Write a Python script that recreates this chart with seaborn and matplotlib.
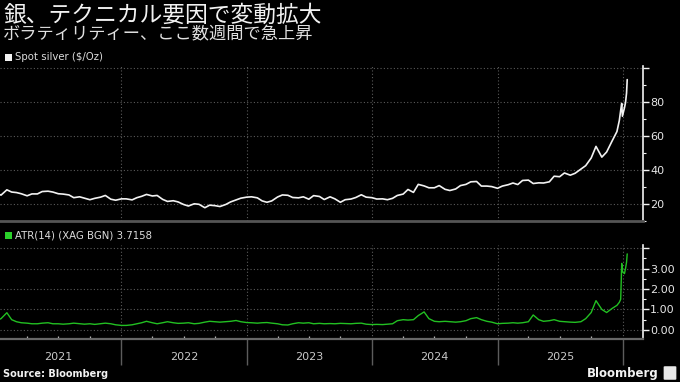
import numpy as np
import pandas as pd
import matplotlib
matplotlib.use("Agg")
import matplotlib.pyplot as plt
import matplotlib.dates as mdates
import matplotlib.transforms as mtransforms
from matplotlib.patches import Rectangle, FancyBboxPatch
from matplotlib.ticker import FixedLocator, MultipleLocator
import seaborn as sns

# ---------------- data ----------------
title = "銀、テクニカル要因で変動拡大"
subtitle = "ボラティリティー、ここ数週間で急上昇"
series1_name = "Spot silver ($/Oz)"
series2_name = "ATR(14) (XAG BGN) 3.7158"
source = "Source: Bloomberg"

# semi-monthly points, 2021-01-01 .. 2025-12-15
silver_2021 = [26.4, 25.2, 28.3, 27.0, 26.7, 26.0, 24.8, 25.9, 25.9, 27.3, 27.5, 27.0,
               26.0, 25.8, 25.3, 23.7, 24.2, 23.4, 22.5, 23.3, 24.0, 25.0, 22.8, 22.2]
silver_2022 = [23.0, 23.0, 22.4, 23.7, 24.5, 25.6, 24.7, 25.0, 22.7, 21.5, 21.9, 21.2,
               19.7, 18.8, 20.1, 19.8, 17.8, 19.3, 19.0, 18.5, 19.7, 21.2, 22.4, 23.4]
silver_2023 = [24.0, 24.2, 23.6, 21.8, 21.0, 21.8, 24.1, 25.3, 25.1, 23.8, 23.6, 24.2,
               22.8, 24.9, 24.4, 22.6, 24.2, 23.0, 21.0, 22.5, 22.9, 23.8, 25.4, 24.0]
silver_2024 = [23.7, 22.9, 23.0, 22.5, 23.3, 25.0, 25.8, 28.5, 26.8, 31.5, 30.6, 29.5,
               29.5, 30.8, 28.6, 27.9, 28.8, 30.8, 31.5, 33.0, 33.2, 30.5, 30.5, 30.2]
silver_2025 = [29.2, 30.5, 31.3, 32.3, 31.4, 33.8, 34.0, 32.0, 32.4, 32.3, 33.0, 36.3,
               36.0, 38.2, 36.9, 38.0, 40.5, 42.5, 47.0, 53.8, 47.5, 50.5, 57.0, 62.5]
atr_2021 = [0.45, 0.55, 0.84, 0.50, 0.40, 0.35, 0.33, 0.30, 0.30, 0.33, 0.35, 0.30,
            0.30, 0.28, 0.30, 0.33, 0.30, 0.28, 0.30, 0.27, 0.30, 0.33, 0.30, 0.25]
atr_2022 = [0.22, 0.22, 0.25, 0.30, 0.35, 0.42, 0.35, 0.30, 0.35, 0.40, 0.35, 0.32,
            0.33, 0.35, 0.30, 0.32, 0.38, 0.42, 0.40, 0.38, 0.40, 0.42, 0.46, 0.40]
atr_2023 = [0.36, 0.35, 0.33, 0.35, 0.36, 0.33, 0.30, 0.25, 0.24, 0.30, 0.35, 0.33,
            0.35, 0.30, 0.32, 0.30, 0.31, 0.30, 0.32, 0.31, 0.30, 0.32, 0.33, 0.28]
atr_2024 = [0.26, 0.27, 0.26, 0.28, 0.30, 0.45, 0.50, 0.48, 0.50, 0.70, 0.88, 0.55,
            0.42, 0.40, 0.42, 0.40, 0.38, 0.40, 0.45, 0.55, 0.60, 0.50, 0.42, 0.38]
atr_2025 = [0.30, 0.32, 0.33, 0.35, 0.33, 0.35, 0.40, 0.73, 0.50, 0.42, 0.45, 0.50,
            0.42, 0.40, 0.38, 0.37, 0.40, 0.55, 0.85, 1.43, 1.00, 0.85, 1.05, 1.20]
# last weeks (daily-ish)
end_dates = ["2025-12-22", "2025-12-26", "2025-12-29", "2025-12-31",
             "2026-01-06", "2026-01-09", "2026-01-12", "2026-01-14"]
silver_end = [69.0, 75.0, 79.0, 71.5, 76.5, 79.5, 85.0, 93.0]
atr_end = [1.35, 1.50, 3.25, 2.85, 2.75, 3.00, 3.30, 3.7158]

years = [2021, 2022, 2023, 2024, 2025]
silver_ticks = [20, 40, 60, 80, 100]
silver_ticklabels = ["20", "40", "60", "80", ""]
atr_ticks = [0, 1, 2, 3, 4]
atr_ticklabels = ["0.00", "1.00", "2.00", "3.00", ""]

dates = list(pd.date_range("2021-01-01", "2025-12-15", freq="SMS")) + list(pd.to_datetime(end_dates))
silver = silver_2021 + silver_2022 + silver_2023 + silver_2024 + silver_2025 + silver_end
atr = atr_2021 + atr_2022 + atr_2023 + atr_2024 + atr_2025 + atr_end
df = pd.DataFrame({"date": dates, "silver": silver, "atr": atr})

# ---------------- style ----------------
sns.set_theme(style="dark")
plt.rcParams["font.family"] = ["DejaVu Sans", "Noto Sans CJK JP"]
BG = "black"
GRID = "#5a5a5a"
WHITE = "#f2f2f2"
GREEN_LINE = "#22c022"
GREEN_SQ = "#2ad12a"

fig = plt.figure(figsize=(6.8, 3.82), dpi=100, facecolor=BG)
W, H = 680.0, 382.0

def fx(px):
    return px / W

def fy(py):
    return 1 - py / H

ax1 = fig.add_axes([0, fy(221), fx(643), (221 - 66) / H])
ax2 = fig.add_axes([0, fy(338.5), fx(643), (338.5 - 245) / H])

sns.lineplot(data=df, x="date", y="silver", ax=ax1, color=WHITE, lw=1.2)
sns.lineplot(data=df, x="date", y="atr", ax=ax2, color=GREEN_LINE, lw=1.0)

xmin, xmax = pd.Timestamp("2021-01-12"), pd.Timestamp("2026-03-01")
for ax in (ax1, ax2):
    ax.set_facecolor(BG)
    ax.set_xlim(xmin, xmax)
    ax.set_xlabel("")
    ax.set_ylabel("")
    ax.yaxis.tick_right()
    for s in ("left", "top"):
        ax.spines[s].set_visible(False)
    ax.spines["right"].set_color(WHITE)
    ax.spines["right"].set_linewidth(1.2)
    ax.xaxis.set_major_locator(mdates.YearLocator())
    ax.xaxis.set_minor_locator(mdates.MonthLocator(bymonth=[4, 7, 10]))
    ax.tick_params(axis="y", which="major", colors=WHITE, labelcolor="#e6e6e6",
                   labelsize=8, length=4, width=1, direction="out", pad=1, right=True, left=False)
    ax.tick_params(axis="y", which="minor", colors=WHITE, length=2, width=0.8,
                   direction="out", right=True, left=False)
    ax.grid(axis="y", which="major", color=GRID, ls=(0, (1, 2)), lw=0.8)
    ax.grid(axis="x", which="major", color=GRID, ls=(0, (1, 2)), lw=0.8)
    ax.grid(axis="x", which="minor", visible=False)
    ax.set_axisbelow(True)

ax1.set_ylim(10, 101)
ax1.yaxis.set_major_locator(FixedLocator(silver_ticks))
ax1.set_yticklabels(silver_ticklabels)
ax1.yaxis.set_minor_locator(MultipleLocator(10))
ax1.spines["bottom"].set_color("#555555")
ax1.spines["bottom"].set_linewidth(2)
ax1.tick_params(axis="x", which="both", length=0, labelbottom=False)

ax2.set_ylim(-0.42, 4.15)
ax2.yaxis.set_major_locator(FixedLocator(atr_ticks))
ax2.set_yticklabels(atr_ticklabels)
ax2.yaxis.set_minor_locator(MultipleLocator(0.5))
ax2.spines["bottom"].set_color("#666666")
ax2.spines["bottom"].set_linewidth(1.6)
ax2.tick_params(axis="x", which="major", length=19, width=1, color="#5c5c5c",
                direction="out", bottom=True, labelbottom=False)
ax2.tick_params(axis="x", which="minor", length=2.5, width=0.9, color="#bbbbbb",
                direction="in", bottom=True)

trans = mtransforms.blended_transform_factory(ax2.transData, ax2.transAxes)
for y in years:
    ax2.text(pd.Timestamp(f"{y}-07-02"), -0.20, str(y), transform=trans,
             ha="center", va="center", fontsize=8, color="#c8c8c8")

# ---------------- titles / legends / footer ----------------
fig.text(fx(3), fy(15), title, fontsize=16.4, color=WHITE, va="center", ha="left",
         family=["Noto Sans CJK JP", "DejaVu Sans"])
fig.text(fx(3), fy(34), subtitle, fontsize=12.4, color="#e0e0e0", va="center", ha="left",
         family=["Noto Sans CJK JP", "DejaVu Sans"])

fig.patches.append(Rectangle((fx(5), fy(61)), 7 / W, 7 / H, transform=fig.transFigure,
                             facecolor=WHITE, edgecolor="none"))
fig.text(fx(15), fy(57), series1_name, fontsize=7.3, color="#dddddd", va="center", ha="left")
fig.patches.append(Rectangle((fx(5), fy(239)), 7 / W, 7 / H, transform=fig.transFigure,
                             facecolor=GREEN_SQ, edgecolor="none"))
fig.text(fx(15), fy(235), series2_name, fontsize=7.3, color="#dddddd", va="center", ha="left")

fig.text(fx(3), fy(374), source, fontsize=7, color=WHITE, fontweight="bold",
         va="center", ha="left")
fig.text(fx(659), fy(373), "Bloomberg", fontsize=8.5, color=WHITE, fontweight="bold",
         va="center", ha="right")
fig.patches.append(FancyBboxPatch((fx(665), fy(379)), 10 / W, 12 / H,
                                  boxstyle="round,pad=0.002", transform=fig.transFigure,
                                  facecolor="#e8e8e8", edgecolor="none"))

fig.savefig("out.png", dpi=100, facecolor=BG)
